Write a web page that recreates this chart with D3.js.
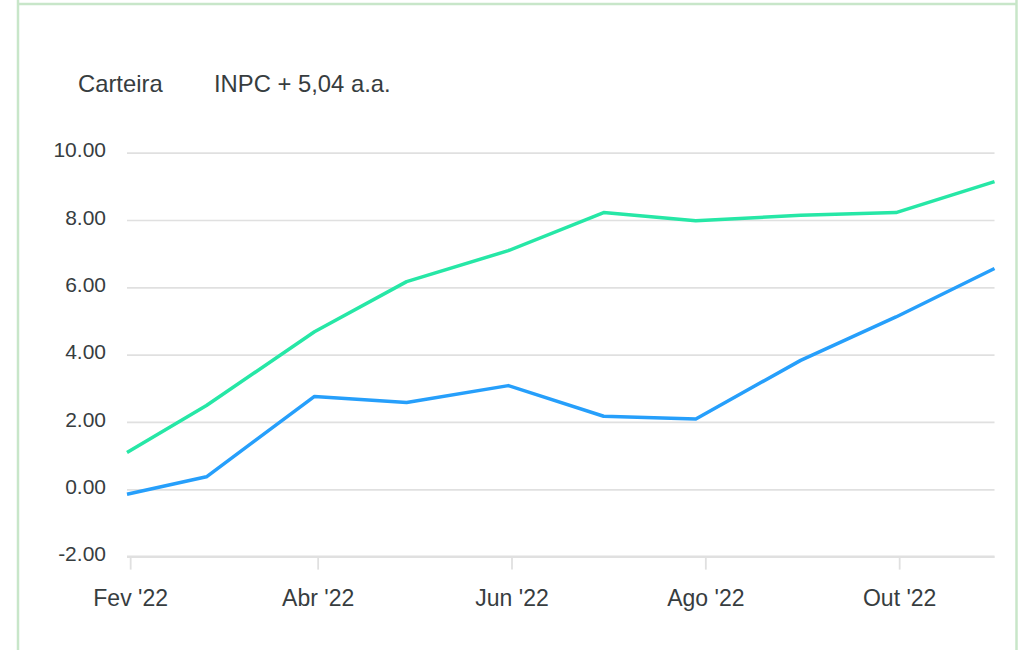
<!DOCTYPE html>
<html>
<head>
<meta charset="utf-8">
<script src="https://cdn.jsdelivr.net/npm/d3@7"></script>
<style>
  html, body { margin: 0; padding: 0; background: #fff; }
  svg { display: block; font-family: Helvetica, Arial, "Liberation Sans", sans-serif; }
</style>
</head>
<body>
<div id="chart"></div>
<script>
// month-end dates of each point
const dates = ['2022-01-31', '2022-02-25', '2022-03-31', '2022-04-29', '2022-05-31',
               '2022-06-30', '2022-07-29', '2022-08-31', '2022-09-30', '2022-10-31'];
const carteira = [-0.15, 0.37, 2.76, 2.58, 3.08, 2.17, 2.09, 3.83, 5.12, 6.56];
const inpc = [1.09, 2.49, 4.68, 6.17, 7.09, 8.22, 7.98, 8.14, 8.22, 9.14];
const seriesNames = ['Carteira', 'INPC + 5,04 a.a.'];
const yTicks = [-2, 0, 2, 4, 6, 8, 10];
const xTicks = ['2022-02-01', '2022-04-01', '2022-06-01', '2022-08-01', '2022-10-01'];
const monthNames = ['Jan', 'Fev', 'Mar', 'Abr', 'Mai', 'Jun', 'Jul', 'Ago', 'Set', 'Out', 'Nov', 'Dez'];

const W = 1020, H = 650;
const colors = ['#269ffb', '#26e7a6'];
const gridColor = '#e0e0e0';
const textColor = '#373d3f';

const parse = d3.utcParse('%Y-%m-%d');
const fmt = d3.format('.2f');

const x = d3.scaleUtc()
  .domain([parse(dates[0]), parse(dates[dates.length - 1])])
  .range([127, 994.5]);

const y = d3.scaleLinear()
  .domain([-2, 10])
  .range([556.6, 152.7]);

const svg = d3.select('#chart').append('svg')
  .attr('width', W)
  .attr('height', H);

// card border
const border = svg.append('g')
  .attr('stroke', '#c8e6c9')
  .attr('stroke-width', 2.5)
  .attr('fill', 'none');
border.append('line').attr('x1', 18).attr('x2', 18).attr('y1', 0).attr('y2', H);
border.append('line').attr('x1', 1016.5).attr('x2', 1016.5).attr('y1', 0).attr('y2', H);
border.append('line').attr('x1', 18).attr('x2', 1016.5).attr('y1', 4).attr('y2', 4);

// gridlines
const gGrid = svg.append('g')
  .attr('transform', `translate(${x.range()[0]}, 0)`)
  .call(d3.axisLeft(y).tickValues(yTicks).tickSize(-(x.range()[1] - x.range()[0])).tickFormat(''));
gGrid.select('.domain').remove();
gGrid.selectAll('line').attr('stroke', gridColor).attr('stroke-width', 1.7);

// y labels (plain hyphen for negatives)
const gY = svg.append('g')
  .attr('transform', `translate(106, 0)`)
  .call(d3.axisLeft(y).tickValues(yTicks).tickSize(0).tickPadding(0)
    .tickFormat(d => fmt(d).replace('\u2212', '-')));
gY.select('.domain').remove();
gY.selectAll('text')
  .attr('fill', textColor)
  .attr('font-size', 21)
  .attr('dy', '0.2em');

// x axis
const gX = svg.append('g')
  .attr('transform', `translate(0, ${y(-2)})`)
  .call(d3.axisBottom(x)
    .tickValues(xTicks.map(parse))
    .tickSize(13)
    .tickPadding(20)
    .tickFormat(d => `${monthNames[d.getUTCMonth()]} '${d3.utcFormat('%y')(d)}`));
gX.select('.domain')
  .attr('d', `M${x.range()[0]},0H${x.range()[1]}`)
  .attr('stroke', gridColor)
  .attr('stroke-width', 2.4);
gX.selectAll('.tick line').attr('stroke', gridColor).attr('stroke-width', 1.8);
gX.selectAll('.tick text')
  .attr('fill', textColor)
  .attr('font-size', 23)
  .attr('dy', '0.71em');

// lines
const line = d3.line()
  .x((d, i) => x(parse(dates[i])))
  .y(d => y(d));

svg.append('g')
  .selectAll('path')
  .data([carteira, inpc])
  .join('path')
    .attr('d', line)
    .attr('fill', 'none')
    .attr('stroke', (d, i) => colors[i])
    .attr('stroke-width', 3.5)
    .attr('stroke-linejoin', 'round')
    .attr('stroke-linecap', 'butt');

// legend
const legendX = [78, 214];
svg.append('g')
  .selectAll('text')
  .data(seriesNames)
  .join('text')
    .attr('x', (d, i) => legendX[i])
    .attr('y', 92)
    .attr('font-size', 23.8)
    .attr('fill', textColor)
    .text(d => d);
</script>
</body>
</html>
